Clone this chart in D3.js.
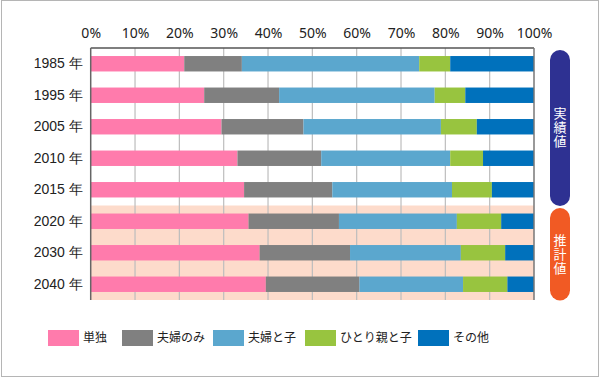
<!DOCTYPE html>
<html><head><meta charset="utf-8">
<script src="https://cdn.jsdelivr.net/npm/d3@7"></script>
<style>
html,body{margin:0;padding:0;background:#fff;}
svg{display:block;font-family:"Noto Sans CJK JP","Noto Sans",sans-serif;}
</style></head>
<body>
<svg id="c" width="600" height="378"></svg>
<script>
const years = ["1985 年","1995 年","2005 年","2010 年","2015 年","2020 年","2030 年","2040 年"];
const seriesNames = ["単独","夫婦のみ","夫婦と子","ひとり親と子","その他"];
const seriesColors = ["#FF7BAC","#808080","#5BA7CE","#98C43F","#0071BC"];
const single   = [21.1,25.6,29.5,33.1,34.6,35.6,38.1,39.5];
const couple   = [13.0,16.9,18.5,18.9,19.9,20.4,20.4,21.1];
const coupleCh = [40.0,35.1,31.0,29.1,27.0,26.6,25.0,23.4];
const singlePa = [7.0,6.9,8.1,7.4,9.0,10.0,10.0,10.0];
const other    = [18.9,15.5,12.9,11.5,9.5,7.4,6.5,6.0];
const xTicks = [0,10,20,30,40,50,60,70,80,90,100];
const projectedYears = ["2020 年","2030 年","2040 年"];
const sideLabels = ["実績値","推計値"];

const svg = d3.select("#c");
const L=90.7, R=534, T=48, B=300;
const x = d3.scaleLinear().domain([0,100]).range([L,R]);
const y = d3.scaleBand().domain(years).range([T,B]).paddingInner(0.51).paddingOuter(0.255);

// frame
svg.append("rect").attr("x",1.5).attr("y",0.5).attr("width",597).attr("height",376)
  .attr("fill","none").attr("stroke","#b5b5b5").attr("stroke-width",1);

// projected background
const step = y.step();
const pStart = y(projectedYears[0]) - (step - y.bandwidth())/2;
svg.append("rect").attr("x",x(0)).attr("y",pStart).attr("width",x(100)-x(0)).attr("height",B-pStart)
  .attr("fill","#FDDBCB");

// gridlines
svg.append("g").selectAll("line").data(xTicks.slice(1,-1)).join("line")
  .attr("x1",d=>x(d)).attr("x2",d=>x(d)).attr("y1",T).attr("y2",B)
  .attr("stroke","#bdbdbd").attr("stroke-width",1.2);

// stacked bars
const table = years.map((yr,i)=>({year:yr,"単独":single[i],"夫婦のみ":couple[i],"夫婦と子":coupleCh[i],"ひとり親と子":singlePa[i],"その他":other[i]}));
const stack = d3.stack().keys(seriesNames)(table);
svg.append("g").selectAll("g").data(stack).join("g")
  .attr("fill",(d,i)=>seriesColors[i])
  .selectAll("rect").data(d=>d).join("rect")
  .attr("x",d=>x(d[0])).attr("width",d=>x(d[1])-x(d[0]))
  .attr("y",d=>y(d.data.year)).attr("height",y.bandwidth());

// axis lines
svg.append("line").attr("x1",x(0)).attr("x2",x(100)).attr("y1",T).attr("y2",T).attr("stroke","#555").attr("stroke-width",1.5);
svg.append("line").attr("x1",x(0)).attr("x2",x(0)).attr("y1",T).attr("y2",B).attr("stroke","#666").attr("stroke-width",1.5);
svg.append("line").attr("x1",x(100)).attr("x2",x(100)).attr("y1",T).attr("y2",B).attr("stroke","#777").attr("stroke-width",1.5);

// top axis labels
const ax = svg.append("g").attr("transform",`translate(0,${T})`)
  .call(d3.axisTop(x).tickValues(xTicks).tickFormat(d=>d+"%").tickSize(0).tickPadding(10));
ax.select(".domain").remove();
ax.selectAll("text").attr("font-size",14).attr("fill","#222").attr("font-family",'"Noto Sans","Noto Sans CJK JP",sans-serif');

// left axis labels
const ay = svg.append("g").attr("transform",`translate(${L},0)`)
  .call(d3.axisLeft(y).tickSize(0).tickPadding(8));
ay.select(".domain").remove();
ay.selectAll("text").attr("font-size",14).attr("fill","#222");

// side pills
const pills = [
  {label:sideLabels[0], y0:50, y1:206, color:"#2E3192"},
  {label:sideLabels[1], y0:208, y1:300.5, color:"#F15A24"}
];
pills.forEach(p=>{
  svg.append("rect").attr("x",550).attr("y",p.y0).attr("width",20).attr("height",p.y1-p.y0)
    .attr("rx",10).attr("ry",10).attr("fill",p.color);
  const cy=(p.y0+p.y1)/2;
  svg.append("text").attr("x",560).attr("y",cy)
    .style("writing-mode","vertical-rl").attr("text-anchor","middle")
    .attr("font-size",13).attr("letter-spacing",1).attr("fill","#fff").text(p.label);
});

// legend
const legX = [48,122,213,305,418];
const lg = svg.append("g");
seriesNames.forEach((n,i)=>{
  lg.append("rect").attr("x",legX[i]).attr("y",330).attr("width",31).attr("height",16).attr("fill",seriesColors[i]);
  lg.append("text").attr("x",legX[i]+35).attr("y",338).attr("dy","0.36em").attr("font-size",12).attr("fill","#222").text(n);
});
</script>
</body></html>
